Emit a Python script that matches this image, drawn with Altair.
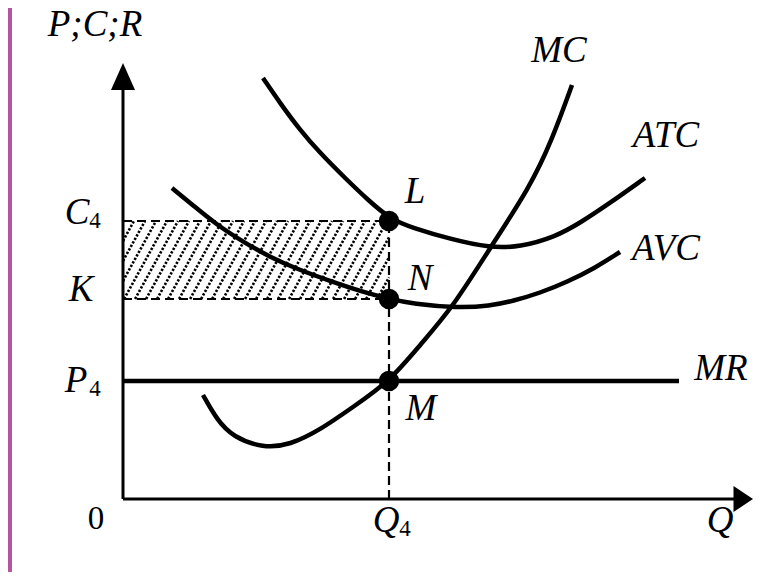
import altair as alt
import pandas as pd

# ---- values (arbitrary units: 1 unit ~ 10 px) ----
Q4 = 26.6   # output level
C4 = 27.8   # average total cost at Q4
K = 20.0    # average variable cost at Q4
P4 = 11.8   # price = MR
MR_END = 55.6

atc_q = [14.0, 15.7, 17.7, 19.7, 22.2, 24.5, 26.7, 29.0, 32.7, 36.7, 39.7, 43.2, 45.7, 48.7, 52.2]
atc_p = [42.1, 39.6, 36.9, 34.6, 32.1, 29.9, 28.0, 27.1, 26.0, 25.1, 25.2, 26.2, 27.6, 29.6, 32.1]

avc_q = [4.9, 7.2, 9.4, 12.2, 14.7, 17.4, 20.7, 24.0, 26.7, 29.0, 33.4, 36.7, 39.0, 41.7, 44.4, 47.2, 49.7]
avc_p = [31.1, 29.2, 27.4, 25.6, 24.2, 23.0, 21.8, 20.7, 20.0, 19.5, 19.1, 19.3, 19.8, 20.6, 21.7, 23.1, 24.7]

mc_q = [8.0, 9.4, 11.0, 14.0, 16.7, 19.7, 23.0, 26.7, 29.7, 33.0, 36.7, 40.7, 42.9, 44.9]
mc_p = [10.4, 7.9, 6.2, 5.1, 5.4, 6.9, 9.2, 11.8, 15.4, 19.2, 25.1, 31.2, 35.9, 41.4]

point_names = ["L", "N", "M"]
point_q = [Q4, Q4, Q4]
point_p = [C4, K, P4]

curve_names = ["MC", "ATC", "AVC", "MR"]
curve_label_q = [43.6, 54.3, 54.3, 59.8]
curve_label_p = [43.7, 35.2, 23.9, 11.9]

point_label_q = [29.2, 29.7, 29.8]
point_label_p = [29.6, 20.9, 7.9]

axis_title_text = ["P;C;R", "Q"]
axis_title_q = [-2.8, 59.7]
axis_title_p = [46.3, -3.3]

tick_letters = ["C", "K", "P", "Q"]
tick_letter_q = [-4.6, -4.2, -4.7, 26.3]
tick_letter_p = [27.5, 19.8, 10.7, -3.3]
sub_text = ["4", "4", "4"]
sub_q = [-2.8, -2.8, 28.2]
sub_p = [27.1, 10.3, -3.7]
origin_q, origin_p = -2.7, -3.0

X_DOMAIN = [-11.5, 63.4]
Y_DOMAIN = [-7.3, 49.1]
AX_Q_END = 61.1
AX_P_END = 40.9

xs = alt.Scale(domain=X_DOMAIN, nice=False, zero=False)
ys = alt.Scale(domain=Y_DOMAIN, nice=False, zero=False)

def X(f="q"):
    return alt.X(f"{f}:Q", scale=xs, axis=None)

def Y(f="p"):
    return alt.Y(f"{f}:Q", scale=ys, axis=None)

# ---- tables ----
rows = []
for name, qs, ps in [("ATC", atc_q, atc_p), ("AVC", avc_q, avc_p), ("MC", mc_q, mc_p)]:
    for i, (q, p) in enumerate(zip(qs, ps)):
        rows.append({"curve": name, "q": q, "p": p, "o": i})
curves = pd.DataFrame(rows)

# hatching inside the loss rectangle [0, Q4] x [K, C4]
slope_dx = 0.55
gap = 1.1
hatch = []
c = -slope_dx * (C4 - K)
while c < Q4:
    x1, y1 = c, K
    x2, y2 = c + slope_dx * (C4 - K), C4
    if x1 < 0:
        y1 = K + (0 - c) / slope_dx
        x1 = 0.0
    if x2 > Q4:
        y2 = K + (Q4 - c) / slope_dx
        x2 = Q4
    if x2 > x1:
        hatch.append({"q": x1, "p": y1, "q2": x2, "p2": y2})
    c += gap
hatch_df = pd.DataFrame(hatch)

dashed_df = pd.DataFrame([
    {"q": 0, "p": C4, "q2": Q4, "p2": C4},
    {"q": 0, "p": K, "q2": Q4, "p2": K},
    {"q": Q4, "p": 0, "q2": Q4, "p2": C4},
])

axes_df = pd.DataFrame([
    {"q": 0, "p": 0, "q2": AX_Q_END, "p2": 0},
    {"q": 0, "p": 0, "q2": 0, "p2": AX_P_END},
])
mr_df = pd.DataFrame([{"q": 0, "p": P4, "q2": MR_END, "p2": P4}])

border_df = pd.DataFrame([{"q": X_DOMAIN[0], "q2": -11.1, "p": Y_DOMAIN[0], "p2": Y_DOMAIN[1]}])

points_df = pd.DataFrame({"name": point_names, "q": point_q, "p": point_p})

italic_df = pd.DataFrame({
    "t": curve_names + point_names + axis_title_text + tick_letters,
    "q": curve_label_q + point_label_q + axis_title_q + tick_letter_q,
    "p": curve_label_p + point_label_p + axis_title_p + tick_letter_p,
})
sub_df = pd.DataFrame({"t": sub_text, "q": sub_q, "p": sub_p})
zero_df = pd.DataFrame({"t": ["0"], "q": [origin_q], "p": [origin_p]})

arrow_x_df = pd.DataFrame({"q": [61.7], "p": [0.0]})
arrow_y_df = pd.DataFrame({"q": [0.0], "p": [42.25]})

FONT = "Liberation Serif"

border = alt.Chart(border_df).mark_rect(color="#b4559e").encode(
    x=X(), x2="q2:Q", y=Y(), y2="p2:Q")

hatch_layer = alt.Chart(hatch_df).mark_rule(
    color="black", strokeWidth=2.6, strokeDash=[2.4, 1.6]).encode(
    x=X(), y=Y(), x2="q2:Q", y2="p2:Q")

dashed = alt.Chart(dashed_df).mark_rule(
    color="black", strokeWidth=2.2, strokeDash=[9, 5]).encode(
    x=X(), y=Y(), x2="q2:Q", y2="p2:Q")

axes = alt.Chart(axes_df).mark_rule(color="black", strokeWidth=3).encode(
    x=X(), y=Y(), x2="q2:Q", y2="p2:Q")

arrow_x = alt.Chart(arrow_x_df).mark_point(
    shape="M1,0L-0.5,-1L-0.5,1Z", size=676, filled=True, color="black",
    opacity=1, strokeWidth=0).encode(x=X(), y=Y())
arrow_y = alt.Chart(arrow_y_df).mark_point(
    shape="M0,-1L0.89,1L-0.89,1Z", size=729, filled=True, color="black",
    opacity=1, strokeWidth=0).encode(x=X(), y=Y())

mr = alt.Chart(mr_df).mark_rule(color="black", strokeWidth=4.5).encode(
    x=X(), y=Y(), x2="q2:Q", y2="p2:Q")

lines = alt.Chart(curves).mark_line(
    color="black", strokeWidth=4.5, interpolate="basis", strokeCap="butt").encode(
    x=X(), y=Y(), detail="curve:N", order="o:Q")

dots = alt.Chart(points_df).mark_point(
    shape="circle", size=420, filled=True, color="black", opacity=1, strokeWidth=0).encode(
    x=X(), y=Y())

italic_text = alt.Chart(italic_df).mark_text(
    font=FONT, fontStyle="italic", fontSize=37, color="black",
    align="center", baseline="alphabetic").encode(x=X(), y=Y(), text="t:N")

sub_layer = alt.Chart(sub_df).mark_text(
    font=FONT, fontSize=23, color="black",
    align="center", baseline="alphabetic").encode(x=X(), y=Y(), text="t:N")

zero_layer = alt.Chart(zero_df).mark_text(
    font=FONT, fontSize=33, color="black",
    align="center", baseline="alphabetic").encode(x=X(), y=Y(), text="t:N")

chart = alt.layer(
    border, hatch_layer, dashed, axes, arrow_x, arrow_y, mr, lines, dots,
    italic_text, sub_layer, zero_layer
).properties(
    width=749, height=564, padding=0,
    autosize=alt.AutoSizeParams(type="none"),
    background="white",
).configure_view(strokeWidth=0)

chart.save("out.html", embed_options={"renderer": "svg", "actions": False})
